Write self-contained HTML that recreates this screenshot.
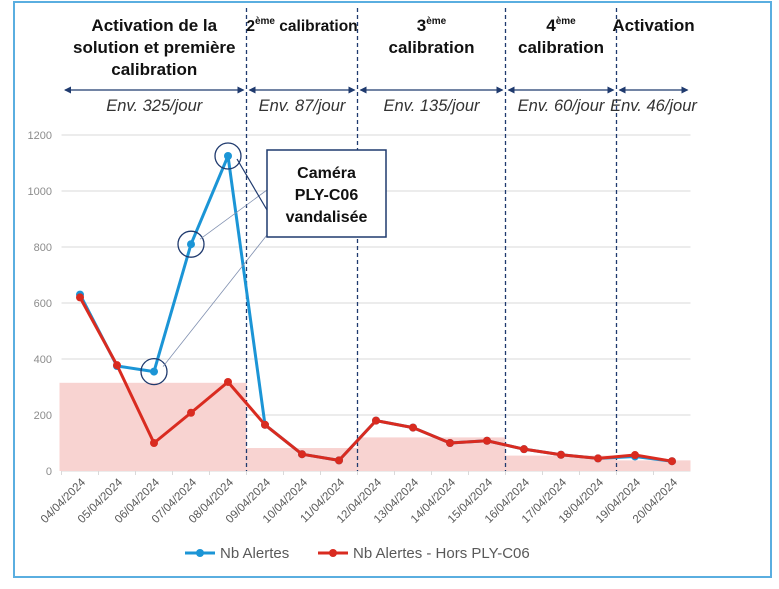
<!DOCTYPE html>
<html><head><meta charset="utf-8"><style>
body{margin:0;background:#fff;width:779px;height:584px;overflow:hidden;font-family:"Liberation Sans",sans-serif}
</style></head><body>
<svg width="779" height="584" xmlns="http://www.w3.org/2000/svg">
<rect x="14" y="2" width="757" height="575" fill="#fff" stroke="#5aaee0" stroke-width="2"/>
<g id="grid"></g><g id="bands"></g><g id="header"></g><g id="series"></g><g id="annot"></g><g id="xlabels"></g>
<g font-size="15" fill="#595959">
<line x1="185" y1="553" x2="215" y2="553" stroke="#1b95d6" stroke-width="3"/><circle cx="200" cy="553" r="4" fill="#1b95d6"/>
<text x="220" y="558">Nb Alertes</text>
<line x1="318" y1="553" x2="348" y2="553" stroke="#d92b20" stroke-width="3"/><circle cx="333" cy="553" r="4" fill="#d92b20"/>
<text x="353" y="558">Nb Alertes - Hors PLY-C06</text>
</g>
</svg>
<script>
const categories=["04/04/2024","05/04/2024","06/04/2024","07/04/2024","08/04/2024","09/04/2024","10/04/2024","11/04/2024","12/04/2024","13/04/2024","14/04/2024","15/04/2024","16/04/2024","17/04/2024","18/04/2024","19/04/2024","20/04/2024"];
const seriesAll=[630,375,355,810,1125,165,60,38,180,155,100,108,78,58,45,52,35];
const seriesHors=[620,378,100,208,318,165,60,38,180,155,100,108,78,58,45,57,35];
const yTicks=[0,200,400,600,800,1000,1200];
const periodStart=[0,5,8,12,15];
const periodEnd=[4,7,11,14,16];
const periodAvg=[315,82,120,55,38];
const periodTitles=[["Activation de la","solution et première","calibration"],["2ème calibration"],["3ème","calibration"],["4ème","calibration"],["Activation"]];
const periodLabels=["Env. 325/jour","Env. 87/jour","Env. 135/jour","Env. 60/jour","Env. 46/jour"];
const NS="http://www.w3.org/2000/svg";
const X0=61.5,BW=37,Y0=471,YS=336/1200;
const x=i=>X0+BW*(i+0.5), y=v=>Y0-v*YS, edge=i=>X0+BW*i;
function mk(p,t,a){const e=document.createElementNS(NS,t);for(const k in a)e.setAttribute(k,a[k]);p.appendChild(e);return e;}
const grid=document.getElementById('grid');
yTicks.forEach(v=>{
 const l=mk(grid,'line',{x1:X0,x2:690.5,y1:y(v),y2:y(v),stroke:'#d9d9d9','stroke-width':1});
 
 
 const t=mk(grid,'text',{x:52,y:y(v)+4,'text-anchor':'end','font-size':11,fill:'#8c8c8c'});t.textContent=v;
 
 
});
const bands=document.getElementById('bands');
periodAvg.forEach((v,i)=>{
 const x1=i==0?X0-2:edge(periodStart[i]),x2=edge(periodEnd[i]+1);
 const r=mk(bands,'rect',{x:x1,y:y(v),width:x2-x1,height:Y0-y(v),fill:'#f8d3d1'});
 
 
});
const hd=document.getElementById('header');
periodStart.forEach((s,i)=>{
 const x1=i==0?62:edge(s),x2=edge(periodEnd[i]+1),cx=(x1+x2)/2;
 if(i>0){const d=mk(hd,'line',{x1:x1,x2:x1,y1:8,y2:Y0,stroke:'#1f3a6e','stroke-width':1.3,'stroke-dasharray':'4,3'});
 
 }
 const ar=mk(hd,'line',{x1:x1+3,x2:x2-3,y1:90,y2:90,stroke:'#1f3a6e','stroke-width':1.2});
 
 
 mk(hd,'path',{d:`M${x1+2},90 l7,-3.5 v7z M${x2-2},90 l-7,-3.5 v7z`,fill:'#1f3a6e'});
 const lab=mk(hd,'text',{x:cx,y:111,'text-anchor':'middle','font-size':16.5,'font-style':'italic',fill:'#333'});lab.textContent=periodLabels[i];
 
 
 const tl=periodTitles[i];
 tl.forEach((line,j)=>{
  const t=mk(hd,'text',{x:cx,y:31+j*22,'text-anchor':'middle','font-size':i==1?15.5:17,'font-weight':'bold',fill:'#111'});
  const m=line.match(/^(\d)ème(.*)$/);
  if(m){t.textContent=m[1];const ts=mk(t,'tspan',{'font-size':10,dy:-7});ts.textContent='ème';const t2=mk(t,'tspan',{dy:7});t2.textContent=m[2];}
  else t.textContent=line;
  
  
 });
});
const sg=document.getElementById('series');
[[seriesAll,'#1b95d6','series-nb-alertes'],[seriesHors,'#d92b20','series-nb-alertes-hors-ply-c06']].forEach(([d,c,n])=>{
 const p=mk(sg,'polyline',{points:d.map((v,i)=>x(i)+','+y(v)).join(' '),fill:'none',stroke:c,'stroke-width':3,'stroke-linejoin':'round'});
 
 
 d.forEach((v,i)=>{const pt=mk(sg,'circle',{cx:x(i),cy:y(v),r:4,fill:c});
 
 });
});
const an=document.getElementById('annot');
[2,3,4].forEach(i=>{
 const cx=x(i),cy=y(seriesAll[i]);
 const c=mk(an,'circle',{cx:cx,cy:cy,r:13,fill:'none',stroke:'#1f3a6e','stroke-width':1.3});
 
 
 mk(an,'line',{x1:cx+9,y1:cy-(i==4?-3:5),x2:267,y2:i==4?210:i==3?190:235,stroke:i==4?'#1f3a6e':'#8090b0','stroke-width':i==4?1.2:0.8});
});
const box=mk(an,'rect',{x:267,y:150,width:119,height:87,fill:'#fff',stroke:'#1f3a6e','stroke-width':1.5});


["Caméra","PLY-C06","vandalisée"].forEach((s,j)=>{const t=mk(an,'text',{x:326.5,y:178+j*22,'text-anchor':'middle','font-size':16,'font-weight':'bold',fill:'#111'});t.textContent=s;
 
 });
const xl=document.getElementById('xlabels');
categories.forEach((c,i)=>{
 mk(xl,'line',{x1:edge(i),x2:edge(i),y1:Y0,y2:Y0+4,stroke:'#d9d9d9'});
 const t=mk(xl,'text',{x:x(i)+6,y:Y0+12,'text-anchor':'end','font-size':11.5,fill:'#595959',transform:`rotate(-45 ${x(i)+6} ${Y0+12})`});t.textContent=c;
 
 
});
</script>
</body></html>
